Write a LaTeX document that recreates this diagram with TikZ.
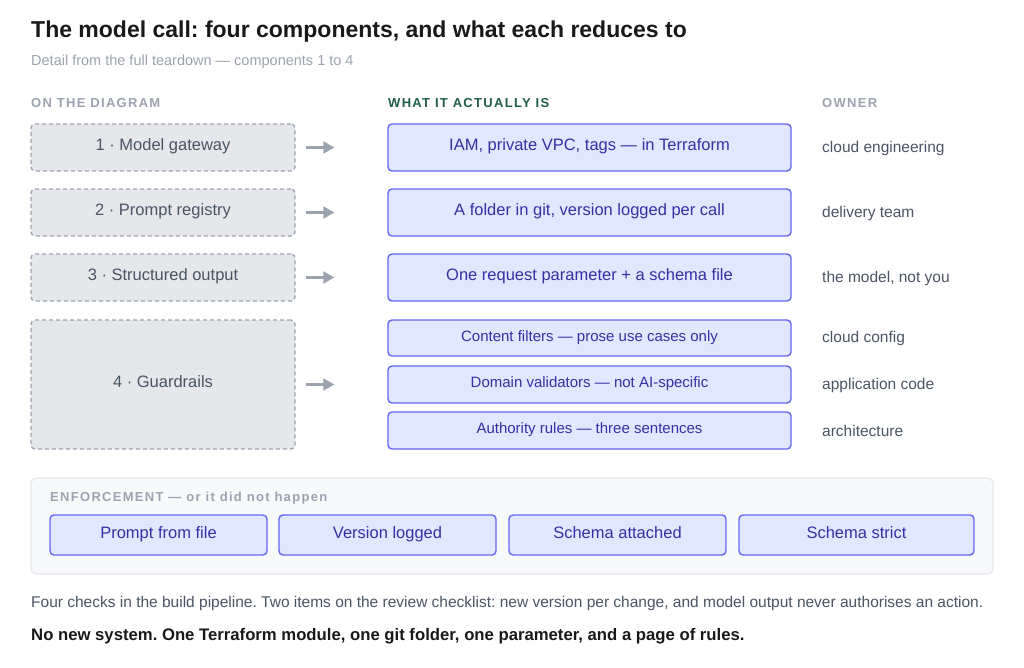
\documentclass[tikz,border=0pt]{standalone}
\usepackage{fontspec}
\setmainfont{Liberation Sans}
\usetikzlibrary{arrows.meta}
\definecolor{inkgray}{HTML}{4B5563}
\definecolor{linegray}{HTML}{9CA3AF}
\definecolor{boxgray}{HTML}{E5E7EB}
\definecolor{boxblue}{HTML}{E0E7FF}
\definecolor{lineblue}{HTML}{6366F1}
\definecolor{inkblue}{HTML}{3730A3}
\definecolor{headgreen}{HTML}{1F5F4A}
\definecolor{panel}{HTML}{F8F9FB}
\newcommand{\spaced}{\addfontfeature{LetterSpace=10}}
\tikzset{
  diag/.style={draw=linegray, line width=1.3pt, dash pattern=on 4pt off 3pt, fill=boxgray, rounded corners=4pt, text=inkgray, text height=1.45ex, text depth=0.2ex, font=\fontsize{16.5}{19}\selectfont},
  real/.style={draw=lineblue, line width=1.4pt, fill=boxblue, rounded corners=4pt, text=inkblue, text height=1.45ex, text depth=0.2ex, font=\fontsize{16.5}{19}\selectfont},
  owner/.style={anchor=west, inner xsep=0pt, text=inkgray, font=\fontsize{15.5}{18}\selectfont},
  head/.style={anchor=west, inner xsep=0pt, font=\fontsize{13}{15}\selectfont\bfseries\spaced},
  maps/.style={-{Triangle[length=11pt,width=12pt]}, line width=2.3pt, draw=linegray, shorten <=10pt, shorten >=53pt}
}
\begin{document}
\frenchspacing
\begin{tikzpicture}[x=1pt,y=-1pt]
\useasboundingbox[fill=white] (0,0) rectangle (1024,667);
% title
\node[anchor=west, inner xsep=0pt, font=\fontsize{23}{27}\selectfont\bfseries, text=black!90] (title) at (31,32) {The model call: four components, and what each reduces to};
\node[anchor=west, inner xsep=0pt, text=linegray, font=\fontsize{14.5}{17}\selectfont] (sub) at (31,62) {Detail from the full teardown — components 1 to 4};
% column heads
\node[head, text=linegray] (h1) at (31,103) {ON THE DIAGRAM};
\node[head, text=headgreen] (h2) at (388,103) {WHAT IT ACTUALLY IS};
\node[head, text=linegray] (h3) at (822,103) {OWNER};
% diagram side
\node[diag, minimum width=264pt, minimum height=47pt] (l1) at (163,147.5) {1 · Model gateway};
\node[diag, minimum width=264pt, minimum height=47pt] (l2) at (163,212.5) {2 · Prompt registry};
\node[diag, minimum width=264pt, minimum height=47pt] (l3) at (163,277.5) {3 · Structured output};
\node[diag, minimum width=264pt, minimum height=129pt] (l4) at (163,384.5) {4 · Guardrails};
% what it is
\node[real, minimum width=403pt, minimum height=47pt] (r1) at (589.5,147.5) {IAM, private VPC, tags — in Terraform};
\node[real, minimum width=403pt, minimum height=47pt] (r2) at (589.5,212.5) {A folder in git, version logged per call};
\node[real, minimum width=403pt, minimum height=47pt] (r3) at (589.5,277.5) {One request parameter + a schema file};
\node[real, minimum width=403pt, minimum height=36pt, font=\fontsize{15}{17}\selectfont] (r4) at (589.5,338) {Content filters — prose use cases only};
\node[real, minimum width=403pt, minimum height=37pt, font=\fontsize{15}{17}\selectfont] (r5) at (589.5,384.5) {Domain validators — not AI-specific};
\node[real, minimum width=403pt, minimum height=37pt, font=\fontsize{15}{17}\selectfont] (r6) at (589.5,430.5) {Authority rules — three sentences};
\draw[maps] (l1) -- (r1);
\draw[maps] (l2) -- (r2);
\draw[maps] (l3) -- (r3);
\draw[maps] (l4) -- (r5);
% owners
\node[owner] (o1) at (822,148) {cloud engineering};
\node[owner] (o2) at (822,213) {delivery team};
\node[owner] (o3) at (822,278) {the model, not you};
\node[owner] (o4) at (822,338.5) {cloud config};
\node[owner] (o5) at (822,385) {application code};
\node[owner] (o6) at (822,431) {architecture};
% enforcement panel
\draw[draw=boxgray, line width=1.2pt, fill=panel, rounded corners=6pt] (31,478) rectangle (993,574);
\node[head, text=linegray] (eh) at (50,498) {ENFORCEMENT — or it did not happen};
\node[real, minimum width=217pt, minimum height=40pt] (e1) at (158.5,535) {Prompt from file};
\node[real, minimum width=217pt, minimum height=40pt] (e2) at (387.5,535) {Version logged};
\node[real, minimum width=217pt, minimum height=40pt] (e3) at (617.5,535) {Schema attached};
\node[real, minimum width=235pt, minimum height=40pt] (e4) at (856.5,535) {Schema strict};
% footer
\node[anchor=west, inner xsep=0pt, text=inkgray, font=\fontsize{15.5}{18}\selectfont] (f1) at (31,603) {Four checks in the build pipeline. Two items on the review checklist: new version per change, and model output never authorises an action.};
\node[anchor=west, inner xsep=0pt, text=black!90, font=\fontsize{16.7}{19}\selectfont\bfseries] (f2) at (31,636) {No new system. One Terraform module, one git folder, one parameter, and a page of rules.};
\end{tikzpicture}
\end{document}
